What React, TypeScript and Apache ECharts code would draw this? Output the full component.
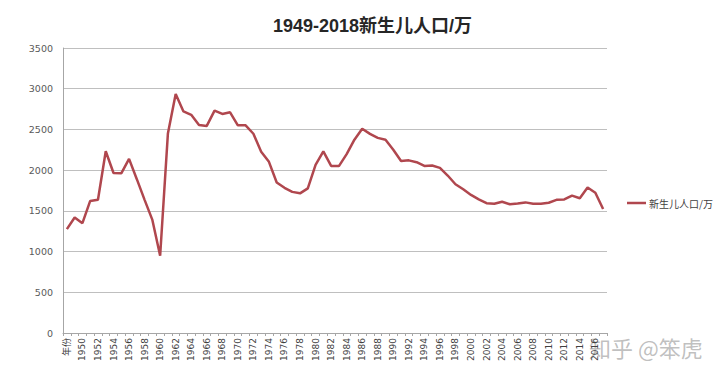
import React, { useEffect, useRef } from "react";
import * as echarts from "echarts";

// Category labels as they appear on the axis (header row included, shifted by one)
const categories: string[] = ["年份"].concat(
  Array.from({ length: 69 }, (_, i) => String(1949 + i))
);

// Births (10k) 1949-2018
const births: number[] = [
  1275, 1419, 1349, 1622, 1637, 2232, 1965, 1961, 2138, 1889,
  1635, 1389, 949, 2451, 2934, 2721, 2679, 2554, 2543, 2731,
  2690, 2710, 2551, 2550, 2447, 2226, 2102, 1849, 1783, 1733,
  1715, 1776, 2064, 2230, 2052, 2050, 2196, 2374, 2508, 2445,
  2396, 2374, 2250, 2113, 2120, 2098, 2052, 2057, 2028, 1934,
  1827, 1765, 1696, 1641, 1594, 1588, 1612, 1581, 1591, 1604,
  1587, 1588, 1600, 1635, 1640, 1687, 1655, 1786, 1723, 1523,
];

const seriesName = "新生儿人口/万";
const titleText = "1949-2018新生儿人口/万";
const watermark = "知乎 @笨虎";

export default function App() {
  const ref = useRef<HTMLDivElement>(null);
  useEffect(() => {
    if (!ref.current) return;
    const chart = echarts.init(ref.current, null, { renderer: "svg" });
    chart.setOption({
      animation: false,
      backgroundColor: "#ffffff",
      title: {
        text: titleText,
        left: 268,
        top: 12,
        textStyle: {
          fontSize: 18,
          fontWeight: "bold",
          color: "#262626",
          fontFamily: "Liberation Sans Narrow, Liberation Sans, Noto Sans CJK SC, sans-serif",
        },
      },
      legend: {
        left: 622,
        top: 193,
        icon: "rect",
        itemWidth: 19,
        itemHeight: 2.5,
        itemGap: 4,
        data: [seriesName],
        textStyle: {
          fontSize: 10,
          color: "#404040",
          padding: [0, 0, 0, -2],
          fontFamily: "Noto Sans CJK SC, sans-serif",
        },
      },
      grid: { left: 63, right: 113, top: 48, bottom: 46, containLabel: false },
      xAxis: {
        type: "category",
        data: categories,
        boundaryGap: true,
        axisLine: { lineStyle: { color: "#a6a6a6", width: 1 } },
        axisTick: {
          show: true,
          interval: 0,
          length: 3,
          lineStyle: { color: "#a6a6a6" },
        },
        axisLabel: {
          interval: 1,
          rotate: 90,
          fontSize: 9,
          color: "#404040",
          margin: 5,
          fontFamily: "DejaVu Sans, Noto Sans CJK SC, sans-serif",
        },
      },
      yAxis: {
        type: "value",
        min: 0,
        max: 3500,
        interval: 500,
        axisLine: { show: true, lineStyle: { color: "#a6a6a6", width: 1 } },
        axisTick: { show: false },
        splitLine: { lineStyle: { color: "#bfbfbf", width: 1 } },
        axisLabel: {
          fontSize: 9.5,
          color: "#595959",
          margin: 10,
          formatter: (v: number) => String(v),
          fontFamily: "DejaVu Sans, sans-serif",
        },
      },
      series: [
        {
          name: seriesName,
          type: "line",
          data: births,
          symbol: "none",
          lineStyle: { color: "#b0474e", width: 2.5 },
          itemStyle: { color: "#b0474e" },
        },
      ],
      graphic: [
        {
          type: "text",
          left: 589,
          top: 336,
          style: {
            text: watermark,
            fontSize: 22,
            fill: "rgba(150,150,150,0.6)",
            fontFamily: "Noto Sans CJK SC, sans-serif",
          },
        },
      ],
    });
    return () => chart.dispose();
  }, []);
  return (
    <div
      ref={ref}
      style={{ position: "fixed", left: 0, top: 0, width: 720, height: 379 }}
    />
  );
}
